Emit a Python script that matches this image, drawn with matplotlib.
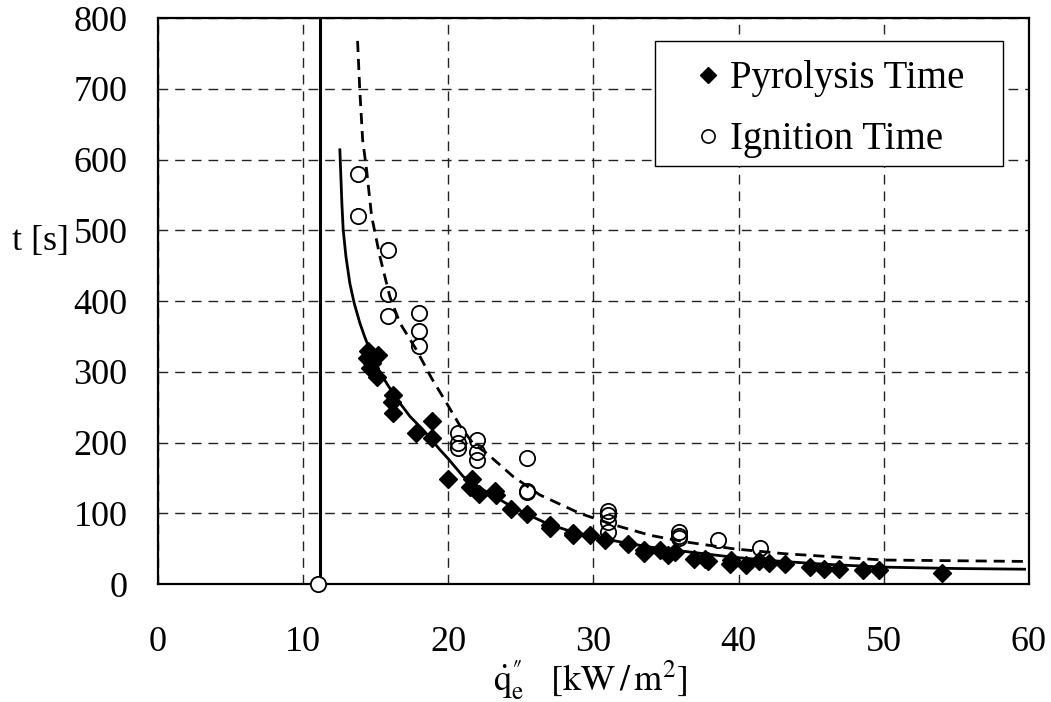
import matplotlib
matplotlib.use("Agg")
import matplotlib.pyplot as plt
from matplotlib.lines import Line2D
from matplotlib.patches import Rectangle

plt.rcParams['font.family'] = ['Liberation Serif', 'DejaVu Serif']
plt.rcParams['mathtext.fontset'] = 'stix'

# Pyrolysis time data (diamonds)
pyro_q = [14.49, 15.18, 14.37, 14.72, 15.06, 14.6, 16.2, 16.09, 16.2, 17.8, 18.9, 18.9,
          20.0, 21.6, 21.5, 22.1, 23.2, 23.3, 24.35, 25.4, 27.0, 27.0, 28.6, 28.6, 29.75,
          30.8, 32.4, 33.5, 33.5, 34.6, 35.15, 35.6, 36.9, 37.7, 37.9, 39.5, 39.4, 40.5,
          41.4, 42.1, 43.2, 44.9, 45.9, 46.9, 48.6, 49.7, 54.0]
pyro_t = [329, 324, 319, 312, 293, 305, 267, 258, 242, 213, 230, 206,
          149, 149, 137, 128, 131, 126, 106, 99, 84, 79, 72, 70, 69,
          63, 56, 48, 44, 48, 41, 46, 35, 35, 33, 34, 29, 27,
          32, 30, 29, 24, 22, 22, 20, 20, 16]

# Ignition time data (open circles)
ign_q = [13.8, 13.8, 15.86, 15.86, 15.86, 17.97, 17.97, 17.97, 20.68, 20.68, 20.68,
         21.99, 21.99, 21.99, 25.45, 25.45, 25.45, 30.97, 30.97, 30.97, 30.97,
         35.9, 35.9, 35.9, 38.6, 41.46]
ign_t = [580, 520, 472, 410, 379, 383, 358, 337, 214, 200, 192,
         203, 187, 176, 178, 132, 130, 104, 98, 88, 74,
         74, 68, 65, 62, 51]

# Critical heat flux
q_crit_point = [11.0]
t_crit_point = [0]
q_crit_line = 11.15

# Fitted pyrolysis curve
fit_p_q = [12.53, 12.60, 12.67, 12.76, 12.95, 13.22, 13.52, 13.91, 14.25, 14.6, 15.06, 15.75,
           16.44, 17.36, 18.27, 19.42, 20.0, 21.03, 22.5, 24.0, 25.5, 26.76, 28.5, 29.98,
           32.0, 34.0, 35.95, 39.6, 43.0, 46.0, 49.9, 55.0, 59.7]
fit_p_t = [614, 576, 538, 501, 463, 425, 397, 369, 349, 331, 308, 284,
           262, 237, 218, 190, 177, 152, 132, 114, 98, 86, 74, 67,
           59, 52, 47, 38, 32, 28, 24, 22, 21]

# Fitted ignition curve
fit_i_q = [13.75, 13.9, 14.1, 14.37, 14.72, 15.29, 15.98, 16.67, 17.81, 18.85, 19.88, 20.8,
           21.7, 22.64, 24.47, 26.31, 29.06, 31.36, 33.9, 36.2, 39.6, 43.1, 49.95, 59.7]
fit_i_t = [768, 700, 628, 586, 520, 463, 406, 369, 331, 291, 256, 224,
           199, 185, 152, 126, 100, 84, 69, 60, 50, 43, 34, 32]

x_ticks = [0, 10, 20, 30, 40, 50, 60]
y_ticks = [0, 100, 200, 300, 400, 500, 600, 700, 800]

fig = plt.figure(figsize=(10.51, 7.02), dpi=100)
ax = fig.add_axes([0.1503, 0.168, 0.8287, 0.806])

ax.set_xlim(0, 60)
ax.set_ylim(0, 800)
ax.set_xticks(x_ticks)
ax.set_yticks(y_ticks)
ax.tick_params(axis='both', length=0, labelsize=26)
ax.tick_params(axis='y', pad=22)
ax.tick_params(axis='x', pad=30)
ax.grid(True, color='#222222', linestyle=(0, (7, 5)), linewidth=1.0)
ax.set_axisbelow(True)
for s in ax.spines.values():
    s.set_linewidth(1.6)
    s.set_color('black')

ax.axvline(q_crit_line, color='black', linewidth=2.2, zorder=2)
ax.plot(fit_p_q, fit_p_t, color='black', linewidth=2.0, zorder=3)
ax.plot(fit_i_q, fit_i_t, color='black', linewidth=2.0, linestyle=(0, (4, 2.5)), zorder=3)

ax.plot(pyro_q, pyro_t, linestyle='none', marker='D', markersize=9.5,
        markerfacecolor='black', markeredgecolor='black', zorder=4)
ax.plot(ign_q, ign_t, linestyle='none', marker='o', markersize=11,
        markerfacecolor='none', markeredgecolor='black', markeredgewidth=1.3, zorder=4)
ax.plot(q_crit_point, t_crit_point, linestyle='none', marker='o', markersize=11,
        markerfacecolor='white', markeredgecolor='black', markeredgewidth=1.3,
        zorder=5, clip_on=False)

# legend frame
ax.add_patch(Rectangle((0.5706, 0.7385), 0.970 - 0.5706, 0.959 - 0.7385,
                       transform=ax.transAxes, facecolor='white', edgecolor='black',
                       linewidth=1.0, zorder=6))

handles = [Line2D([], [], linestyle='none', marker='D', markersize=8.5,
                  markerfacecolor='black', markeredgecolor='black'),
           Line2D([], [], linestyle='none', marker='o', markersize=9.5,
                  markerfacecolor='white', markeredgecolor='black', markeredgewidth=1.2)]
leg = ax.legend(handles, ['Pyrolysis Time', 'Ignition Time'], loc='upper left',
                bbox_to_anchor=(0.609, 0.926), borderaxespad=0, borderpad=0, fontsize=28,
                frameon=False, handlelength=1.0, handletextpad=0.06, labelspacing=0.62)
leg.set_zorder(7)

ax.set_ylabel('t [s]', fontsize=26, rotation=0, ha='center', va='center')
ax.yaxis.set_label_coords(-0.135, 0.605)
ax.set_xlabel('$\\dot{\\mathrm{q}}^{\u2033}_{\\mathrm{e}}\\ \\ \\ [\\mathrm{kW\\,/\\,m}^{2}]$',
              fontsize=26, va='center')
ax.xaxis.set_label_coords(0.496, -0.17)

fig.savefig('out.png', dpi=100)
